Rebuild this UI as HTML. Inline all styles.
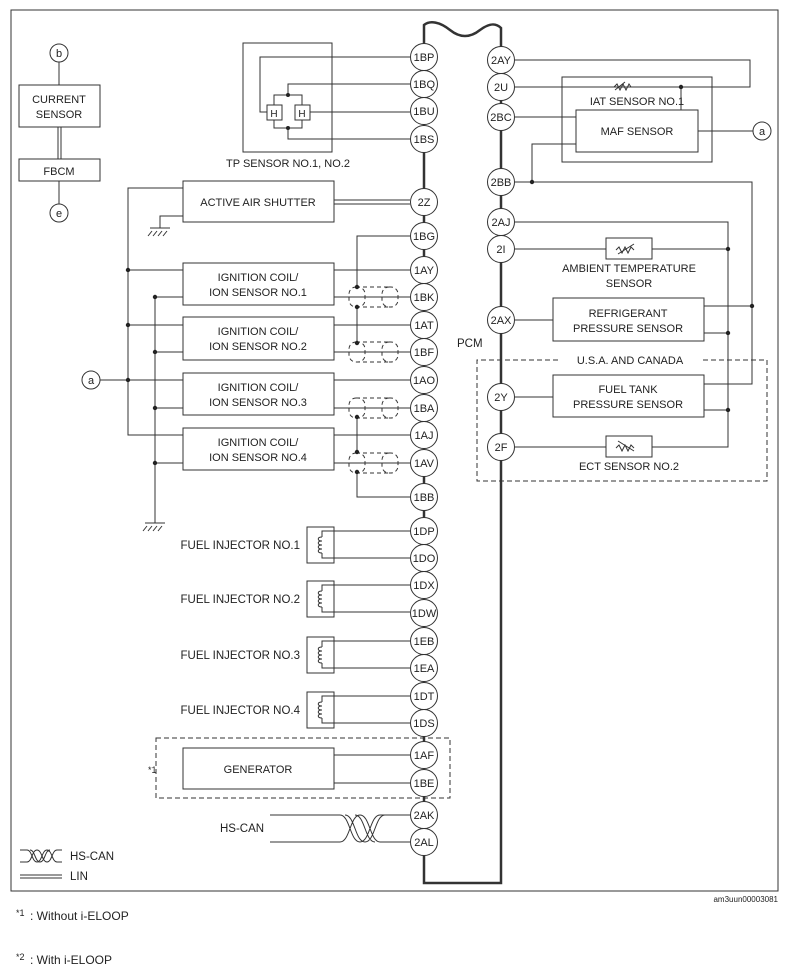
<!DOCTYPE html>
<html><head><meta charset="utf-8"><style>
body{margin:0;background:#fff}
svg{display:block}
text{font-family:"Liberation Sans",sans-serif;font-size:11.5px;fill:#222}
.c text{font-size:11px;text-anchor:middle}
</style></head><body>
<svg width="790" height="975" viewBox="0 0 790 975" xmlns="http://www.w3.org/2000/svg">
<g fill="none" stroke="#333" stroke-width="1">
<rect x="11" y="10" width="767" height="881"/>
<path d="M424,25 C430,20 440,22 450,30 C460,38 470,38 480,30 C488,24 495,22 501,28 L501,883 L424,883 Z" stroke-width="2.5" fill="none"/>
<rect x="19" y="85" width="81" height="42"/>
<rect x="19" y="159" width="81" height="22"/>
<line x1="59" y1="62" x2="59" y2="85"/>
<line x1="58" y1="127" x2="58" y2="159"/><line x1="61" y1="127" x2="61" y2="159"/>
<line x1="59" y1="181" x2="59" y2="204"/>
<rect x="243" y="43" width="89" height="109"/>
<rect x="267" y="105" width="15" height="15"/><rect x="295" y="105" width="15" height="15"/>
<path d="M410,57 H260 V112 H267 M410,84 H288 V95 M274,105 V95 H302 V105 M310,112 H410 M274,120 V128 H302 V120 M288,128 V139 H410"/>
<rect x="183" y="181" width="151" height="41"/>
<line x1="334" y1="200" x2="410" y2="200"/><line x1="334" y1="204" x2="410" y2="204"/>
<path d="M183,188 H128 V435 H183 M183,216 H160 V228"/>
<path d="M150,228 H170 M152,231 L148,236 M157,231 L153,236 M162,231 L158,236 M167,231 L163,236" />
<rect x="183" y="263" width="151" height="42"/>
<rect x="183" y="317" width="151" height="43"/>
<rect x="183" y="373" width="151" height="42"/>
<rect x="183" y="428" width="151" height="42"/>
<path d="M128,270 H183 M128,325 H183 M100,380 H183 M155,297 H183 M155,352 H183 M155,408 H183 M155,463 H183 M155,297 V523"/>
<path d="M145,523 H165 M147,526 L143,531 M152,526 L148,531 M157,526 L153,531 M162,526 L158,531"/>
<path d="M334,270 H410 M334,297 H410 M334,325 H410 M334,352 H410 M334,380 H410 M334,408 H410 M334,435 H410 M334,463 H410"/>
<path d="M410,236 H357 V287 M357,307 V343 M357,417 V452 M357,472 V497 H410"/>
<g stroke-dasharray="4,3">
<rect x="349" y="287" width="16" height="20" rx="7"/><rect x="382" y="287" width="16" height="20" rx="7"/><path d="M356,287 H390 M356,307 H390"/>
<rect x="349" y="342" width="16" height="20" rx="7"/><rect x="382" y="342" width="16" height="20" rx="7"/><path d="M356,342 H390 M356,362 H390"/>
<rect x="349" y="398" width="16" height="20" rx="7"/><rect x="382" y="398" width="16" height="20" rx="7"/><path d="M356,398 H390 M356,418 H390"/>
<rect x="349" y="453" width="16" height="20" rx="7"/><rect x="382" y="453" width="16" height="20" rx="7"/><path d="M356,453 H390 M356,473 H390"/>
</g>
<g id="inj">
<rect x="307" y="527" width="27" height="36"/>
<path d="M410,531 H322 V537 M322,553 V558 H410 M322,537 c-5,0 -5,4 0,4 c-5,0 -5,4 0,4 c-5,0 -5,4 0,4 c-5,0 -5,4 0,4"/>
</g>
<use href="#inj" y="54"/><use href="#inj" y="110"/><use href="#inj" y="165"/>
<rect x="156" y="738" width="294" height="60" stroke-dasharray="5,3"/>
<rect x="183" y="748" width="151" height="41"/>
<path d="M334,755 H410 M334,783 H410"/>
<path d="M270,815 H340 C350,815 350,842 360,842 C370,842 370,815 380,815 C390,815 385,815 395,815 H410 M270,842 H340 C350,842 350,815 360,815 C370,815 370,842 380,842 H410 M345,815 C355,815 355,842 365,842 M355,815 C365,815 365,842 375,842 M365,842 C375,842 375,815 385,815"/>
<path d="M20,850 H27 C32,850 32,862 37,862 C42,862 42,850 47,850 C52,850 52,862 57,862 H62 M20,862 H27 C32,862 32,850 37,850 C42,850 42,862 47,862 C52,862 52,850 57,850 H62 M30,850 C35,850 35,862 40,862 M40,862 C45,862 45,850 50,850"/>
<path d="M20,875 H62 M20,878 H62"/>
<rect x="562" y="77" width="150" height="85"/>
<rect x="576" y="110" width="122" height="42"/>
<path d="M515,60 H750 V87 H515 M681,87 V110 M515,117 H576 M576,144 H532 V182 M515,182 H752 V384 H704 M752,306 H704 M698,131 H753"/>
<path d="M614,87 l3,-3 3,6 3,-6 3,6 3,-6 2,3 M615,90 l10,-8"/>
<path d="M515,222 H728 V447 H652 M515,249 H606 M652,249 H728 M704,333 H728 M704,410 H728 M515,320 H553 M515,397 H553 M515,447 H606"/>
<rect x="606" y="238" width="46" height="21"/>
<path d="M616,250 l3,-3 3,6 3,-6 3,6 3,-6 3,3 M618,254 l16,-10"/>
<rect x="553" y="298" width="151" height="43"/>
<rect x="553" y="375" width="151" height="42"/>
<rect x="606" y="436" width="46" height="21"/>
<path d="M616,448 l3,-3 3,6 3,-6 3,6 3,-6 3,3 M618,441 l16,10"/>
<path d="M558,360 H477 V481 H767 V360 H703" stroke-dasharray="5,3"/>
</g>
<g fill="#222">
<circle cx="288" cy="95" r="2"/><circle cx="288" cy="128" r="2"/>
<circle cx="128" cy="270" r="2.2"/><circle cx="128" cy="325" r="2.2"/><circle cx="128" cy="380" r="2.2"/>
<circle cx="155" cy="297" r="2.2"/><circle cx="155" cy="352" r="2.2"/><circle cx="155" cy="408" r="2.2"/><circle cx="155" cy="463" r="2.2"/>
<circle cx="357" cy="287" r="2.2"/><circle cx="357" cy="307" r="2.2"/><circle cx="357" cy="343" r="2.2"/><circle cx="357" cy="417" r="2.2"/><circle cx="357" cy="452" r="2.2"/><circle cx="357" cy="472" r="2.2"/>
<circle cx="681" cy="87" r="2.2"/><circle cx="532" cy="182" r="2.2"/><circle cx="752" cy="306" r="2.2"/>
<circle cx="728" cy="249" r="2.2"/><circle cx="728" cy="333" r="2.2"/><circle cx="728" cy="410" r="2.2"/>
</g>
<g fill="#fff" stroke="#333">
<circle cx="59" cy="53" r="9"/><circle cx="59" cy="213" r="9"/><circle cx="91" cy="380" r="9"/><circle cx="762" cy="131" r="9"/>
</g>
<g class="c">
<text x="59" y="57">b</text><text x="59" y="217">e</text><text x="91" y="384">a</text><text x="762" y="135">a</text>
<text x="274" y="117" style="font-size:10px">H</text><text x="302" y="117" style="font-size:10px">H</text>
</g>
<g class="c" fill="#fff" stroke="#333">
<circle cx="424" cy="57" r="13.5"/><circle cx="424" cy="84" r="13.5"/><circle cx="424" cy="111" r="13.5"/><circle cx="424" cy="139" r="13.5"/>
<circle cx="424" cy="202" r="13.5"/><circle cx="424" cy="236" r="13.5"/><circle cx="424" cy="270" r="13.5"/><circle cx="424" cy="297" r="13.5"/>
<circle cx="424" cy="325" r="13.5"/><circle cx="424" cy="352" r="13.5"/><circle cx="424" cy="380" r="13.5"/><circle cx="424" cy="408" r="13.5"/>
<circle cx="424" cy="435" r="13.5"/><circle cx="424" cy="463" r="13.5"/><circle cx="424" cy="497" r="13.5"/>
<circle cx="424" cy="531" r="13.5"/><circle cx="424" cy="558" r="13.5"/><circle cx="424" cy="585" r="13.5"/><circle cx="424" cy="613" r="13.5"/>
<circle cx="424" cy="641" r="13.5"/><circle cx="424" cy="668" r="13.5"/><circle cx="424" cy="696" r="13.5"/><circle cx="424" cy="723" r="13.5"/>
<circle cx="424" cy="755" r="13.5"/><circle cx="424" cy="783" r="13.5"/><circle cx="424" cy="815" r="13.5"/><circle cx="424" cy="842" r="13.5"/>
<circle cx="501" cy="60" r="13.5"/><circle cx="501" cy="87" r="13.5"/><circle cx="501" cy="117" r="13.5"/><circle cx="501" cy="182" r="13.5"/>
<circle cx="501" cy="222" r="13.5"/><circle cx="501" cy="249" r="13.5"/><circle cx="501" cy="320" r="13.5"/><circle cx="501" cy="397" r="13.5"/><circle cx="501" cy="447" r="13.5"/>
</g>
<g class="c">
<text x="424" y="61">1BP</text><text x="424" y="88">1BQ</text><text x="424" y="115">1BU</text><text x="424" y="143">1BS</text>
<text x="424" y="206">2Z</text><text x="424" y="240">1BG</text><text x="424" y="274">1AY</text><text x="424" y="301">1BK</text>
<text x="424" y="329">1AT</text><text x="424" y="356">1BF</text><text x="424" y="384">1AO</text><text x="424" y="412">1BA</text>
<text x="424" y="439">1AJ</text><text x="424" y="467">1AV</text><text x="424" y="501">1BB</text>
<text x="424" y="535">1DP</text><text x="424" y="562">1DO</text><text x="424" y="589">1DX</text><text x="424" y="617">1DW</text>
<text x="424" y="645">1EB</text><text x="424" y="672">1EA</text><text x="424" y="700">1DT</text><text x="424" y="727">1DS</text>
<text x="424" y="759">1AF</text><text x="424" y="787">1BE</text><text x="424" y="819">2AK</text><text x="424" y="846">2AL</text>
<text x="501" y="64">2AY</text><text x="501" y="91">2U</text><text x="501" y="121">2BC</text><text x="501" y="186">2BB</text>
<text x="501" y="226">2AJ</text><text x="501" y="253">2I</text><text x="501" y="324">2AX</text><text x="501" y="401">2Y</text><text x="501" y="451">2F</text>
<text x="59" y="103">CURRENT</text><text x="59" y="118">SENSOR</text><text x="59" y="175">FBCM</text>
<text x="288" y="167">TP SENSOR NO.1, NO.2</text>
<text x="258" y="206">ACTIVE AIR SHUTTER</text>
<text x="258" y="281">IGNITION COIL/</text><text x="258" y="296">ION SENSOR NO.1</text>
<text x="258" y="335">IGNITION COIL/</text><text x="258" y="350">ION SENSOR NO.2</text>
<text x="258" y="391">IGNITION COIL/</text><text x="258" y="406">ION SENSOR NO.3</text>
<text x="258" y="446">IGNITION COIL/</text><text x="258" y="461">ION SENSOR NO.4</text>
<text x="258" y="773">GENERATOR</text>
<text x="637" y="105">IAT SENSOR NO.1</text><text x="637" y="135">MAF SENSOR</text>
<text x="629" y="272">AMBIENT TEMPERATURE</text><text x="629" y="287">SENSOR</text>
<text x="628" y="317">REFRIGERANT</text><text x="628" y="332">PRESSURE SENSOR</text>
<text x="630" y="364">U.S.A. AND CANADA</text>
<text x="628" y="393">FUEL TANK</text><text x="628" y="408">PRESSURE SENSOR</text>
<text x="629" y="470">ECT SENSOR NO.2</text>
</g>
<text x="300" y="549" text-anchor="end">FUEL INJECTOR NO.1</text>
<text x="300" y="603" text-anchor="end">FUEL INJECTOR NO.2</text>
<text x="300" y="659" text-anchor="end">FUEL INJECTOR NO.3</text>
<text x="300" y="714" text-anchor="end">FUEL INJECTOR NO.4</text>
<text x="457" y="347">PCM</text>
<text x="148" y="773" style="font-size:9px">*1</text>
<text x="220" y="832">HS-CAN</text>
<text x="70" y="860">HS-CAN</text>
<text x="70" y="880">LIN</text>
<text x="778" y="902" text-anchor="end" style="font-size:8px">am3uun00003081</text>
<text x="16" y="916" style="font-size:9px">*1</text><text x="30" y="920" style="font-size:12px">: Without i-ELOOP</text>
<text x="16" y="960" style="font-size:9px">*2</text><text x="30" y="964" style="font-size:12px">: With i-ELOOP</text>
</svg>
</body></html>
